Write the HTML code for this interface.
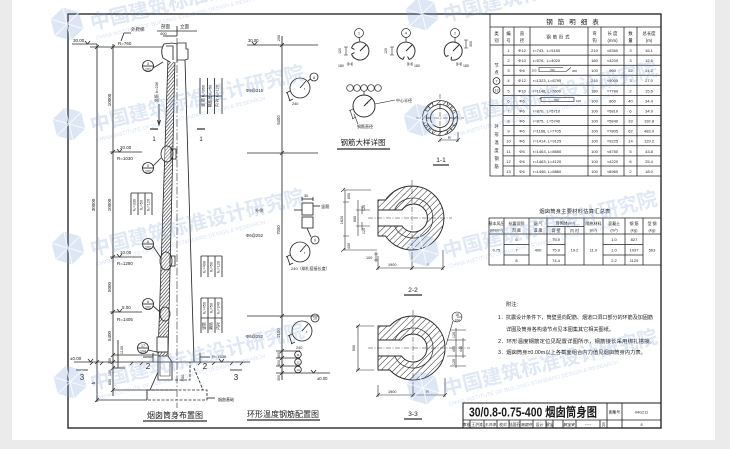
<!DOCTYPE html>
<html><head><meta charset="utf-8">
<style>
html,body{margin:0;padding:0;background:#ebebeb;}
svg{display:block;}
text{font-family:"Liberation Sans","Noto Sans CJK SC",sans-serif;fill:#1a1a1a;}
</style></head><body>
<svg width="730" height="449" viewBox="0 0 730 449" xmlns="http://www.w3.org/2000/svg">
<defs>
<pattern id="h" patternUnits="userSpaceOnUse" width="4.5" height="4.5" patternTransform="rotate(45)"><line x1="0" y1="0" x2="0" y2="4.5" stroke="#2a2a2a" stroke-width="1"/></pattern>
<pattern id="hc" patternUnits="userSpaceOnUse" width="2.4" height="2.4" patternTransform="rotate(40)"><line x1="0" y1="0" x2="0" y2="2.4" stroke="#1a1a1a" stroke-width="1.1"/></pattern>
</defs>
<rect x="0" y="0" width="730" height="449" fill="#ebebeb"/>
<rect x="12" y="0" width="703" height="440" fill="#fff"/>

<!-- frame -->
<rect x="68" y="14" width="593" height="414" fill="none" stroke="#1a1a1a" stroke-width="1.3"/>

<!-- ============ LEFT: chimney layout ============ -->
<g stroke="#2a2a2a" stroke-width="0.85" fill="none">
 <line x1="157" y1="31" x2="197" y2="31"/>
 <line x1="177" y1="26" x2="177" y2="36"/>
 <line x1="163" y1="36" x2="177" y2="36"/>
 <line x1="72" y1="44" x2="97" y2="44"/>
 <path d="M85,41 l2.5,3 l2.5,-3"/>
 <line x1="90" y1="47" x2="166" y2="47"/>
 <path d="M121,41 L124,33 L131,33"/>
 <line x1="97" y1="44" x2="97" y2="402"/>
 <line x1="113" y1="44" x2="113" y2="396"/>
 <path d="M95,49 l4,-4 M111,49 l4,-4 M111,154 l4,-4 M111,259 l4,-4 M111,314 l4,-4 M111,357 l4,-4 M111,364 l4,-4 M111,370 l4,-4 M111,392 l4,-4 M95,364 l4,-4 M95,402 l4,-4"/>
 <line x1="110" y1="152" x2="142" y2="152"/>
 <path d="M117,149 l2.5,3 l2.5,-3"/>
 <line x1="110" y1="257" x2="142" y2="257"/>
 <path d="M117,254 l2.5,3 l2.5,-3"/>
 <line x1="110" y1="312" x2="142" y2="312"/>
 <path d="M117,309 l2.5,3 l2.5,-3"/>
 <line x1="113" y1="355" x2="157" y2="355"/>
 <line x1="113" y1="368" x2="125" y2="368"/>
 <line x1="113" y1="390" x2="147" y2="390"/>
 <line x1="97" y1="400" x2="147" y2="400"/>
 <line x1="118" y1="340" x2="118" y2="368"/>
 <line x1="177" y1="38" x2="177" y2="408" stroke-dasharray="8,2,1.5,2" stroke-width="0.6"/>
 <path d="M168,58 L175,58 L168,356 L158,356 Z" fill="url(#hc)" stroke-width="0.8"/>
 <line x1="185" y1="60" x2="194" y2="362"/>
 <path d="M170,62 L163,58 Q160,50 164,44 L172,43 L177,44 L177,62" fill="#fff"/>
 <path d="M166,46 L173,46 L173,60" />
 <path d="M177,43 L186,43 L186,49 L188,49 L188,59 L185,60 L177,60"/>
 <ellipse cx="167" cy="154" rx="6" ry="8" fill="#fff" fill-opacity="0.3"/>
 <rect x="171" y="149" width="5" height="10"/>
 <ellipse cx="166" cy="261" rx="6" ry="9" fill="#fff" fill-opacity="0.3"/>
 <rect x="170" y="256" width="5" height="10"/>
 <ellipse cx="165" cy="314" rx="5" ry="7" fill="#fff" fill-opacity="0.3"/>
 <rect x="157" y="337" width="11" height="15" fill="#fff"/>
 <path d="M158,352 L158,380 L172,380 L172,362 L168,356"/>
 <path d="M160,356 L160,376 L170,376 L170,362" stroke-width="0.6"/>
 <path d="M158,372 L150,390"/>
 <rect x="147" y="390" width="60" height="10" stroke-dasharray="3,1.5"/>
 <line x1="147" y1="390" x2="175" y2="390"/>
 <line x1="147" y1="390" x2="147" y2="400"/>
 <path d="M194,368 L203,390" stroke-dasharray="3,1.5"/>
 <path d="M175,380 L190,380 L190,362" stroke-dasharray="3,1.5"/>
 <line x1="207" y1="398" x2="215" y2="398"/>
 <line x1="74" y1="362" x2="250" y2="362"/>
 <path d="M90,365 l3,-3 M100,365 l3,-3 M130,365 l3,-3 M140,365 l3,-3 M198,365 l3,-3 M212,365 l3,-3 M230,365 l3,-3 M240,365 l3,-3"/>
 <path d="M88,359 l2.5,3 l2.5,-3"/>
 <path d="M219,359 l2.5,3 l2.5,-3"/>
 <line x1="76" y1="370" x2="88" y2="370"/>
 <line x1="230" y1="370" x2="242" y2="370"/>
 <line x1="143" y1="357" x2="153" y2="357"/>
 <line x1="200" y1="357" x2="210" y2="357"/>
 <line x1="153" y1="353" x2="153" y2="362"/>
 <line x1="200" y1="353" x2="200" y2="362"/>
 <line x1="150" y1="129" x2="158" y2="129" stroke-width="1.2"/>
 <line x1="197" y1="129" x2="205" y2="129" stroke-width="1.2"/>
 <circle cx="148" cy="66" r="5.5"/><line x1="142.5" y1="66" x2="153.5" y2="66"/><line x1="153" y1="68" x2="163" y2="62"/>
 <circle cx="148" cy="168" r="5.5"/><line x1="142.5" y1="168" x2="153.5" y2="168"/><line x1="153" y1="166" x2="161" y2="158"/>
 <circle cx="148" cy="244" r="5.5"/><line x1="142.5" y1="244" x2="153.5" y2="244"/><line x1="153" y1="246" x2="161" y2="258"/>
 <circle cx="148" cy="304" r="5.5"/><line x1="142.5" y1="304" x2="153.5" y2="304"/><line x1="153" y1="306" x2="160" y2="312"/>
 <circle cx="143" cy="348" r="5.5"/><line x1="137.5" y1="348" x2="148.5" y2="348"/><line x1="148" y1="350" x2="157" y2="352"/>
 <line x1="159" y1="104" x2="159" y2="124"/>
 <path d="M157.5,120 L159,125 L160.5,120"/>
 <path d="M200,78 V114 M207.5,78 V114 M214.5,78 V114 M222,78 V114 M200,96 H222"/>
 <path d="M131,193 V215 M138,193 V215 M145,193 V215 M152,193 V215 M131,193 H152"/>
 <path d="M201,256 V277 M208,256 V277 M215,256 V277 M222,256 V277 M201,256 H222"/>
 <path d="M201,298 V333 M208,298 V333 M215,298 V333 M222,298 V333 M201,298 H222 M201,318 H222"/>
 <line x1="143" y1="421" x2="207" y2="421" stroke-width="1.2"/>
</g>
<g font-size="4.5">
 <text x="161" y="28">剖面</text><text x="180" y="28">立面</text>
 <text x="160" y="35" font-size="4">400</text>
 <text x="73" y="42">30.00</text>
 <text x="131" y="31" font-size="4.5">外爬梯</text>
 <text x="118" y="45">R=760</text>
 <text x="120" y="149">20.00</text><text x="117" y="160">R=1030</text>
 <text x="120" y="254">10.00</text><text x="117" y="265">R=1280</text>
 <text x="122" y="309">5.00</text><text x="117" y="321">R=1405</text>
 <text x="70" y="360">±0.00</text>
 <text x="212" y="358" font-size="4">R=1530</text>
 <text x="218" y="401" font-size="4">烟囱基础</text>
 <text x="111" y="100" transform="rotate(-90 111 100)" text-anchor="middle">10000</text>
 <text x="111" y="205" transform="rotate(-90 111 205)" text-anchor="middle">10000</text>
 <text x="95" y="205" transform="rotate(-90 95 205)" text-anchor="middle">30000</text>
 <text x="111" y="287" transform="rotate(-90 111 287)" text-anchor="middle">5000</text>
 <text x="111" y="336" transform="rotate(-90 111 336)" text-anchor="middle">5400</text>
 <text x="111" y="361" transform="rotate(-90 111 361)" text-anchor="middle" font-size="3.8">300</text>
 <text x="111" y="373" transform="rotate(-90 111 373)" text-anchor="middle" font-size="3.8">150</text>
 <text x="111" y="382" transform="rotate(-90 111 382)" text-anchor="middle" font-size="3.8">800</text>
 <text x="123" y="350" transform="rotate(-90 123 350)" text-anchor="middle" font-size="3.8">1100</text>
 <text x="95" y="383" transform="rotate(-90 95 383)" text-anchor="middle">h</text>
 <text x="184" y="378" transform="rotate(-90 184 378)" text-anchor="middle" font-size="4">800</text>
 <text x="158" y="92" transform="rotate(-90 158 92)" text-anchor="middle" font-size="4">竖筋 h=236</text>
 <text x="204.5" y="96" transform="rotate(-90 204.5 96)" text-anchor="middle" font-size="3.8">竖 筋 h₁=360</text>
 <text x="211.5" y="96" transform="rotate(-90 211.5 96)" text-anchor="middle" font-size="3.8">隔热层 h₂=50</text>
 <text x="218.5" y="96" transform="rotate(-90 218.5 96)" text-anchor="middle" font-size="3.8">内 衬 h₃=120</text>
 <text x="135.5" y="205" transform="rotate(-90 135.5 205)" text-anchor="middle" font-size="3.8">h₁=330</text>
 <text x="142.5" y="205" transform="rotate(-90 142.5 205)" text-anchor="middle" font-size="3.8">h₂=50</text>
 <text x="149.5" y="205" transform="rotate(-90 149.5 205)" text-anchor="middle" font-size="3.8">h₃=120</text>
 <text x="205.5" y="267" transform="rotate(-90 205.5 267)" text-anchor="middle" font-size="3.8">h₁=400</text>
 <text x="212.5" y="267" transform="rotate(-90 212.5 267)" text-anchor="middle" font-size="3.8">h₂=50</text>
 <text x="219.5" y="267" transform="rotate(-90 219.5 267)" text-anchor="middle" font-size="3.8">h₃=120</text>
 <text x="205.5" y="308" transform="rotate(-90 205.5 308)" text-anchor="middle" font-size="3.8">h₁=450</text>
 <text x="212.5" y="308" transform="rotate(-90 212.5 308)" text-anchor="middle" font-size="3.8">h₂=50</text>
 <text x="219.5" y="308" transform="rotate(-90 219.5 308)" text-anchor="middle" font-size="3.8">h₃=240</text>
 <text x="205.5" y="326" transform="rotate(-90 205.5 326)" text-anchor="middle" font-size="3.8">竖筋</text>
 <text x="212.5" y="326" transform="rotate(-90 212.5 326)" text-anchor="middle" font-size="3.8">隔热</text>
 <text x="219.5" y="326" transform="rotate(-90 219.5 326)" text-anchor="middle" font-size="3.8">内衬</text>
 <g font-size="3.6" text-anchor="middle">
  <text x="148" y="65">3</text><text x="148" y="70.5">101</text>
  <text x="148" y="167">5</text><text x="148" y="172.5">102</text>
  <text x="148" y="243">6</text><text x="148" y="248.5">102</text>
  <text x="148" y="303">6</text><text x="148" y="308.5">102</text>
  <text x="143" y="347">17</text><text x="143" y="352.5">104</text>
 </g>
 <text x="154" y="141" font-size="6" text-anchor="middle">1</text>
 <text x="201" y="141" font-size="6" text-anchor="middle">1</text>
 <text x="148" y="369" font-size="8" text-anchor="middle">2</text>
 <text x="205" y="369" font-size="8" text-anchor="middle">2</text>
 <text x="82" y="380" font-size="8" text-anchor="middle">3</text>
 <text x="236" y="380" font-size="8" text-anchor="middle">3</text>
 <text x="175" y="418" font-size="8" text-anchor="middle">烟囱筒身布置图</text>
</g>

<!-- ============ MIDDLE: ring temperature bars ============ -->
<g stroke="#2a2a2a" stroke-width="0.85" fill="none">
 <line x1="282" y1="36" x2="282" y2="380"/>
 <line x1="247" y1="45" x2="318" y2="45"/>
 <path d="M252,42 l2.5,3 l2.5,-3"/>
 <line x1="247" y1="153" x2="318" y2="153"/>
 <line x1="247" y1="316" x2="318" y2="316"/>
 <line x1="276" y1="351" x2="300" y2="351"/>
 <line x1="276" y1="358" x2="300" y2="358"/>
 <line x1="276" y1="366" x2="300" y2="366"/>
 <line x1="276" y1="373" x2="330" y2="373"/>
 <path d="M311,370 l2.5,3 l2.5,-3"/>
 <path d="M280,47 l4,-4 M280,155 l4,-4 M280,318 l4,-4 M280,353 l4,-4 M280,360 l4,-4 M280,368 l4,-4 M280,375 l4,-4"/>
 <circle cx="300" cy="88" r="10"/>
 <line x1="300" y1="88" x2="306" y2="81"/>
 <circle cx="314" cy="77" r="4"/>
 <line x1="310.5" y1="79" x2="308" y2="81"/>
 <path d="M287,92 l3,9 M290,91 l-4,2 M293,99 l-4,2"/>
 <rect x="302" y="203" width="11" height="12"/>
 <rect x="302" y="217" width="11" height="11"/>
 <line x1="302" y1="199" x2="313" y2="199"/>
 <line x1="302" y1="197" x2="302" y2="201"/><line x1="313" y1="197" x2="313" y2="201"/>
 <line x1="313" y1="206" x2="320" y2="206"/>
 <line x1="294" y1="210" x2="302" y2="210"/>
 <path d="M307,228 L311,237"/>
 <circle cx="315" cy="240" r="4"/>
 <circle cx="300" cy="252" r="10"/>
 <line x1="300" y1="252" x2="306" y2="245"/>
 <path d="M287,256 l3,9 M290,255 l-4,2 M293,263 l-4,2"/>
 <circle cx="302" cy="331" r="10"/>
 <line x1="302" y1="331" x2="308" y2="324"/>
 <circle cx="315" cy="318" r="4"/>
 <path d="M289,335 l3,9 M292,334 l-4,2 M295,342 l-4,2"/>
 <circle cx="298" cy="354.5" r="3.3"/>
 <circle cx="298" cy="362" r="3.3"/>
 <circle cx="298" cy="369.5" r="3.3"/>
 <line x1="247" y1="420" x2="320" y2="420" stroke-width="1.2"/>
</g>
<g font-size="4.2">
 <text x="248" y="42">30.00</text>
 <text x="280" y="38" transform="rotate(-90 280 38)" text-anchor="middle" font-size="3.8">200</text>
 <text x="246" y="92">Φ6@315</text>
 <text x="280" y="120" transform="rotate(-90 280 120)" text-anchor="middle">5400</text>
 <text x="292" y="105" font-size="3.8">240</text>
 <text x="304" y="90" font-size="3.8">r</text>
 <text x="314" y="79" font-size="3.6" text-anchor="middle">8</text>
 <text x="304" y="197" font-size="3.8">30</text>
 <text x="255" y="212">外侧</text>
 <text x="321" y="208">竖筋</text>
 <text x="315" y="241.5" font-size="3.6" text-anchor="middle">9</text>
 <text x="246" y="237">Φ6@252</text>
 <text x="280" y="230" transform="rotate(-90 280 230)" text-anchor="middle">7000</text>
 <text x="304" y="254" font-size="3.8">r</text>
 <text x="291" y="270" font-size="4">240（绑扎搭接长度）</text>
 <text x="246" y="338">Φ6@252</text>
 <text x="280" y="333" transform="rotate(-90 280 333)" text-anchor="middle">2100</text>
 <text x="306" y="333" font-size="3.8">r</text>
 <text x="315" y="319.5" font-size="3.6" text-anchor="middle">10</text>
 <text x="296" y="349" font-size="3.8">240</text>
 <text x="298" y="356" font-size="3" text-anchor="middle">11</text>
 <text x="298" y="363.5" font-size="3" text-anchor="middle">12</text>
 <text x="298" y="371" font-size="3" text-anchor="middle">13</text>
 <text x="280" y="355" transform="rotate(-90 280 355)" text-anchor="middle" font-size="3.5">800</text>
 <text x="280" y="363" transform="rotate(-90 280 363)" text-anchor="middle" font-size="3.5">400</text>
 <text x="280" y="378" transform="rotate(-90 280 378)" text-anchor="middle" font-size="3.5">300</text>
 <text x="317" y="380">±0.00</text>
 <text x="283" y="417" font-size="8" text-anchor="middle">环形温度钢筋配置图</text>
</g>

<!-- ============ bar details ============ -->
<g stroke="#2a2a2a" stroke-width="0.95" fill="none">
 <path d="M351.5,47.9 A9,9 0 1 1 351.5,54.1"/>
 <path d="M351.5,47.9 l3,1.5 M351.5,54.1 l3,-1.5"/>
 <line x1="360" y1="51" x2="366" y2="45"/>
 <circle cx="359" cy="33" r="4.5" stroke-width="0.7"/>
 <line x1="359" y1="37.5" x2="360" y2="42" stroke-width="0.7"/>
 <path d="M402.9,59.5 A9,9 0 1 1 409.1,59.5"/>
 <path d="M402.9,59.5 l1.5,-3 M409.1,59.5 l-1.5,-3"/>
 <line x1="406" y1="51" x2="412" y2="45"/>
 <circle cx="406" cy="33" r="4.5" stroke-width="0.7"/>
 <line x1="406" y1="37.5" x2="406" y2="42" stroke-width="0.7"/>
 <path d="M446,56.5 A9,9 0 1 1 451,59.8"/>
 <path d="M446,56.5 l2.5,-1 M451,59.8 l0.5,-3"/>
 <line x1="453" y1="51" x2="459" y2="45"/>
 <circle cx="455" cy="33" r="4.5" stroke-width="0.7"/>
 <line x1="455" y1="37.5" x2="455" y2="42" stroke-width="0.7"/>
 <g stroke-width="0.6">
  <path d="M346,47 v8 M344,47 h4 M344,55 h4 M348,64 h4 M348,62 v4 M352,62 v4"/>
  <path d="M392,47 v8 M390,47 h4 M390,55 h4 M408,64 h4 M408,62 v4 M412,62 v4"/>
  <path d="M466,40 v8 M464,40 h4 M464,48 h4 M457,64 h4 M457,62 v4 M461,62 v4"/>
 </g>
 <circle cx="364" cy="106" r="11"/>
 <line x1="364" y1="106" x2="372" y2="98"/>
 <line x1="375" y1="104" x2="395" y2="100" stroke-width="0.6"/>
 <line x1="354" y1="114" x2="358" y2="124" stroke-width="0.6"/>
 <path d="M350,110 l3,9 M353,109 l-4,2 M356,117 l-4,2" stroke-width="0.6"/>
 <g stroke-width="0.7">
  <circle cx="350" cy="88" r="3.3"/><circle cx="357" cy="88" r="3.3"/><circle cx="364" cy="88" r="3.3"/><circle cx="371" cy="88" r="3.3"/><circle cx="378" cy="88" r="3.3"/>
  <line x1="364" y1="91.3" x2="364" y2="95"/>
 </g>
 <line x1="337" y1="149" x2="390" y2="149" stroke-width="1.2"/>
</g>
<g font-size="4">
 <text x="359" y="34.5" font-size="3.5" text-anchor="middle">1</text>
 <text x="406" y="34.5" font-size="3.5" text-anchor="middle">4</text>
 <text x="455" y="34.5" font-size="3.5" text-anchor="middle">2</text>
 <text x="341" y="51" transform="rotate(-90 341 51)" text-anchor="middle" font-size="3.5">120</text>
 <text x="387" y="51" transform="rotate(-90 387 51)" text-anchor="middle" font-size="3.5">120</text>
 <text x="472" y="44" transform="rotate(-90 472 44)" text-anchor="middle" font-size="3.5">300</text>
 <text x="338" y="67" font-size="3.5">180</text>
 <text x="414" y="67" font-size="3.5">180</text>
 <text x="463" y="67" font-size="3.5">180</text>
 <text x="396" y="102">中心半径</text>
 <text x="357" y="128">钢筋直径</text>
 <text x="367" y="104" font-size="3.8">r</text>
 <text x="363" y="145" font-size="7.5" text-anchor="middle">钢筋大样详图</text>
</g>

<!-- ============ 1-1 section ============ -->
<g stroke="#2a2a2a" stroke-width="0.85" fill="none">
 <circle cx="440" cy="118" r="17.5" fill="url(#h)"/>
 <circle cx="440" cy="118" r="13.5" fill="#fff"/>
 <circle cx="440" cy="118" r="9.5"/>
 <path d="M440,104.5 V108.5 M440,127.5 V131.5 M426.5,118 H430.5 M449.5,118 H453.5 M449.5,108.5 l2.8,-2.8 M430.5,108.5 l-2.8,-2.8 M449.5,127.5 l2.8,2.8 M430.5,127.5 l-2.8,2.8 M446.8,105.8 l1,-3.5 M433.2,105.8 l-1,-3.5 M446.8,130.2 l1,3.5 M433.2,130.2 l-1,3.5 M452.2,111.2 l3.5,-1 M427.8,111.2 l-3.5,-1 M452.2,124.8 l3.5,1 M427.8,124.8 l-3.5,1" stroke-width="0.7"/>
 <line x1="416" y1="118" x2="464" y2="118" stroke-dasharray="5,1.5,1,1.5" stroke-width="0.5"/>
 <line x1="440" y1="94" x2="440" y2="142" stroke-dasharray="5,1.5,1,1.5" stroke-width="0.5"/>
 <line x1="440" y1="140" x2="458" y2="140" stroke-width="0.6"/>
 <path d="M438,142 l4,-4 M456,142 l4,-4 M458,132 v10" stroke-width="0.6"/>
 <line x1="433" y1="165" x2="449" y2="165" stroke-width="1.2"/>
</g>
<text x="448" y="139" font-size="3.8">R</text>
<text x="441" y="162" font-size="6.5" text-anchor="middle">1-1</text>

<!-- ============ 2-2 section ============ -->
<g stroke="#2a2a2a" stroke-width="0.95">
 <path fill="url(#h)" fill-rule="evenodd" d="M378,200 L385.5,200 A32,32 0 1 1 385.5,236 L378,236 Z M378,210 L402,210 A14,14 0 1 1 402,226 L378,226 Z"/>
 <path fill="none" d="M394.5,210 A20,20 0 1 1 394.5,226" stroke-width="0.7"/>
</g>
<g stroke="#2a2a2a" stroke-width="0.6" fill="none">
 <line x1="368" y1="218" x2="452" y2="218" stroke-dasharray="5,1.5,1,1.5" stroke-width="0.5"/>
 <line x1="412" y1="180" x2="412" y2="256" stroke-dasharray="5,1.5,1,1.5" stroke-width="0.5"/>
 <path d="M345,190 V250 M343,190 h28 M343,250 h34 M343,202 h6 M343,236 h6 M341,192 l4,-4 M341,252 l4,-4"/>
 <path d="M358,200 V236 M356,210 h14 M356,226 h14 M362,206 v8 M362,222 v8"/>
 <path d="M378,268 H443 M378,256 v14 M412,256 v14 M443,250 v20 M376,270 l4,-4 M410,270 l4,-4 M441,270 l4,-4"/>
 <path d="M376,252 V262 M374,254 h4 M374,260 h4"/>
 <line x1="404" y1="295" x2="422" y2="295" stroke-width="1.2"/>
</g>
<g font-size="3.8">
 <text x="343" y="220" transform="rotate(-90 343 220)" text-anchor="middle">1820</text>
 <text x="356" y="219" transform="rotate(-90 356 219)" text-anchor="middle">600</text>
 <text x="365" y="208" transform="rotate(-90 365 208)" text-anchor="middle">120</text>
 <text x="365" y="231" transform="rotate(-90 365 231)" text-anchor="middle">120</text>
 <text x="350" y="196" transform="rotate(-90 350 196)" text-anchor="middle">600</text>
 <text x="350" y="246" transform="rotate(-90 350 246)" text-anchor="middle">400</text>
 <text x="366" y="259">100</text>
 <text x="388" y="266">1900</text>
 <text x="426" y="266">R</text>
 <text x="413" y="292" font-size="6.5" text-anchor="middle">2-2</text>
</g>

<!-- ============ 3-3 section ============ -->
<g stroke="#2a2a2a" stroke-width="0.95">
 <path fill="url(#h)" fill-rule="evenodd" d="M378,326 L389.8,326 A32,32 0 1 1 389.8,370 L378,370 Z M378,340 L401.5,340 A14,14 0 1 1 401.5,356 L378,356 Z"/>
 <path fill="none" d="M394.7,340 A20,20 0 1 1 394.7,356" stroke-width="0.7"/>
</g>
<g stroke="#2a2a2a" stroke-width="0.6" fill="none">
 <line x1="368" y1="348" x2="470" y2="348" stroke-dasharray="5,1.5,1,1.5" stroke-width="0.5"/>
 <line x1="413" y1="310" x2="413" y2="386" stroke-dasharray="5,1.5,1,1.5" stroke-width="0.5"/>
 <path d="M358,326 V370 M356,326 h18 M356,370 h18 M356,328 l4,-4 M356,372 l4,-4"/>
 <path d="M378,395 H445 M378,385 v12 M413,385 v12 M445,378 v19 M376,397 l4,-4 M411,397 l4,-4 M443,397 l4,-4"/>
 <path d="M447,340 H466 M447,356 H466 M450,330 H466 M450,366 H466 M456,328 V368 M463,338 V358"/>
 <circle cx="457" cy="317" r="5"/>
 <line x1="457" y1="317" x2="462" y2="317"/>
 <line x1="453" y1="321" x2="446" y2="345"/>
 <line x1="404" y1="419" x2="422" y2="419" stroke-width="1.2"/>
</g>
<g font-size="3.8">
 <text x="355" y="348" transform="rotate(-90 355 348)" text-anchor="middle">500</text>
 <text x="455" y="335" transform="rotate(-90 455 335)" text-anchor="middle">120</text>
 <text x="455" y="349" transform="rotate(-90 455 349)" text-anchor="middle">400</text>
 <text x="462" y="349" transform="rotate(-90 462 349)" text-anchor="middle">440</text>
 <text x="455" y="362" transform="rotate(-90 455 362)" text-anchor="middle">120</text>
 <text x="457" y="316" font-size="3.2" text-anchor="middle">18</text>
 <text x="457" y="321.5" font-size="3.2" text-anchor="middle">104</text>
 <text x="388" y="393">1900</text>
 <text x="426" y="393">R</text>
 <text x="413" y="416" font-size="6.5" text-anchor="middle">3-3</text>
</g>

<!-- ============ TABLE 1 ============ -->
<g stroke="#222" stroke-width="0.75" fill="none">
 <rect x="490" y="14" width="171" height="162"/>
 <line x1="490" y1="27" x2="661" y2="27"/>
 <line x1="490" y1="45" x2="661" y2="45"/>
 <path d="M503,55.1 H661 M503,65.2 H661 M503,75.2 H661 M503,85.3 H661 M503,95.4 H661 M490,105.5 H661 M503,115.6 H661 M503,125.6 H661 M503,135.7 H661 M503,145.8 H661 M503,155.9 H661 M503,166 H661"/>
 <path d="M503,27 V176 M514,27 V176 M530,27 V176 M588,27 V176 M601,27 V176 M624,27 V176 M637,27 V176"/>
 <circle cx="496.5" cy="81" r="3.4"/>
 <circle cx="496.5" cy="90" r="3.4"/>
 <path d="M539,67.5 H563 M539,67.5 V71.5 H566 L571,67.5" stroke-width="0.6"/>
 <rect x="541" y="97.5" width="33" height="4" stroke-width="0.6"/>
 <path d="M541,97.5 l-1.5,1.5" stroke-width="0.6"/>
</g>
<g font-size="4.3" text-anchor="middle">
 <text x="575" y="24" font-size="6.5" letter-spacing="5">钢筋明细表</text>
 <text x="496.5" y="35">类</text><text x="496.5" y="42">别</text>
 <text x="508.5" y="35">编</text><text x="508.5" y="42">号</text>
 <text x="522" y="35">直</text><text x="522" y="42">径</text>
 <text x="559" y="38.5" letter-spacing="2">钢筋形式</text>
 <text x="594.5" y="35">弯</text><text x="594.5" y="42">钩</text>
 <text x="612.5" y="35">长 度</text><text x="612.5" y="42">(mm)</text>
 <text x="630.5" y="35">数</text><text x="630.5" y="42">量</text>
 <text x="649" y="35">总长度</text><text x="649" y="42">(m)</text>
 <text x="496.5" y="67">节</text><text x="496.5" y="74">点</text>
 <text x="496.5" y="82.5" font-size="3.6">7</text><text x="496.5" y="91.5" font-size="3.6">13</text>
 <text x="496.5" y="128">环</text><text x="496.5" y="136">形</text><text x="496.5" y="144">温</text><text x="496.5" y="152">度</text><text x="496.5" y="160">钢</text><text x="496.5" y="168">筋</text>
 <g font-size="4">
 <text x="508.5" y="52">1</text><text x="508.5" y="62.1">2</text><text x="508.5" y="72.2">3</text><text x="508.5" y="82.2">4</text><text x="508.5" y="92.3">5</text><text x="508.5" y="102.4">6</text><text x="508.5" y="112.5">7</text><text x="508.5" y="122.6">8</text><text x="508.5" y="132.6">9</text><text x="508.5" y="142.7">10</text><text x="508.5" y="152.8">11</text><text x="508.5" y="162.9">12</text><text x="508.5" y="173">13</text>
 <text x="522" y="52">Φ12</text><text x="522" y="62.1">Φ10</text><text x="522" y="72.2">Φ6</text><text x="522" y="82.2">Φ12</text><text x="522" y="92.3">Φ10</text><text x="522" y="102.4">Φ6</text><text x="522" y="112.5">Φ6</text><text x="522" y="122.6">Φ6</text><text x="522" y="132.6">Φ6</text><text x="522" y="142.7">Φ6</text><text x="522" y="152.8">Φ6</text><text x="522" y="162.9">Φ6</text><text x="522" y="173">Φ6</text>
 <text x="594.5" y="52">210</text><text x="594.5" y="62.1">180</text><text x="594.5" y="72.2">100</text><text x="594.5" y="82.2">210</text><text x="594.5" y="92.3">180</text><text x="594.5" y="102.4">100</text><text x="594.5" y="112.5">100</text><text x="594.5" y="122.6">100</text><text x="594.5" y="132.6">100</text><text x="594.5" y="142.7">100</text><text x="594.5" y="152.8">100</text><text x="594.5" y="162.9">100</text><text x="594.5" y="173">100</text>
 <text x="612.5" y="52">≈5360</text><text x="612.5" y="62.1">≈4200</text><text x="612.5" y="72.2">960</text><text x="612.5" y="82.2">≈9005</text><text x="612.5" y="92.3">≈7780</text><text x="612.5" y="102.4">860</text><text x="612.5" y="112.5">≈5810</text><text x="612.5" y="122.6">≈5840</text><text x="612.5" y="132.6">≈7805</text><text x="612.5" y="142.7">≈9225</text><text x="612.5" y="152.8">≈8750</text><text x="612.5" y="162.9">≈4220</text><text x="612.5" y="173">≈8960</text>
 <text x="630.5" y="52">3</text><text x="630.5" y="62.1">3</text><text x="630.5" y="72.2">22</text><text x="630.5" y="82.2">3</text><text x="630.5" y="92.3">2</text><text x="630.5" y="102.4">40</text><text x="630.5" y="112.5">6</text><text x="630.5" y="122.6">33</text><text x="630.5" y="132.6">62</text><text x="630.5" y="142.7">14</text><text x="630.5" y="152.8">5</text><text x="630.5" y="162.9">6</text><text x="630.5" y="173">2</text>
 <text x="649" y="52">16.1</text><text x="649" y="62.1">12.6</text><text x="649" y="72.2">21.2</text><text x="649" y="82.2">27.0</text><text x="649" y="92.3">15.6</text><text x="649" y="102.4">34.4</text><text x="649" y="112.5">34.9</text><text x="649" y="122.6">192.8</text><text x="649" y="132.6">483.9</text><text x="649" y="142.7">129.2</text><text x="649" y="152.8">43.8</text><text x="649" y="162.9">25.4</text><text x="649" y="173">18.0</text>
 </g>
</g>
<g font-size="4" text-anchor="start">
 <text x="533" y="52">r=743,&#160;&#160;L=5150</text>
 <text x="533" y="62.1">r=576,&#160;&#160;L=4020</text>
 <text x="531.5" y="71.5" font-size="3">150</text><text x="550" y="70.8" font-size="2.8">760</text><text x="572" y="72.2" font-size="3">300</text>
 <text x="533" y="82.2">r=1323,&#160;L=8795</text>
 <text x="533" y="92.3">r=1146,&#160;L=7600</text>
 <text x="554" y="101" font-size="2.8">760</text><text x="576" y="102" font-size="3">100</text>
 <text x="533" y="112.5">r=870,&#160;&#160;L=5710</text>
 <text x="533" y="122.6">r=875,&#160;&#160;L=5740</text>
 <text x="533" y="132.6">r=1166,&#160;L=7705</text>
 <text x="533" y="142.7">r=1414,&#160;L=9125</text>
 <text x="533" y="152.8">r=1463,&#160;L=8650</text>
 <text x="533" y="162.9">r=1463,&#160;L=4120</text>
 <text x="533" y="173">r=1496,&#160;L=8860</text>
</g>

<!-- ============ TABLE 2 ============ -->
<g stroke="#222" stroke-width="0.75" fill="none">
 <rect x="489" y="218" width="172" height="47"/>
 <line x1="489" y1="234" x2="661" y2="234"/>
 <line x1="547" y1="226.5" x2="584" y2="226.5"/>
 <path d="M504,218 V265 M529,218 V265 M547,218 V265 M565,226.5 V265 M584,218 V265 M603,218 V265 M625,218 V265 M643,218 V265"/>
 <path d="M504,244.5 H529 M504,255 H529 M547,244.5 H565 M547,255 H565 M603,244.5 H643 M603,255 H643"/>
</g>
<g font-size="4" text-anchor="middle">
 <text x="575" y="213" font-size="5.2" letter-spacing="0.3">烟囱筒身主要材料估算汇总表</text>
 <text x="496.5" y="225">基本风压</text><text x="496.5" y="231.5">(kN/m²)</text>
 <text x="516.5" y="225">抗震设防</text><text x="516.5" y="231.5">烈 度</text>
 <text x="538" y="225">烟 气</text><text x="538" y="231.5">温 度</text>
 <text x="565.5" y="224.5">砖砌体(m³)</text>
 <text x="556" y="232">筒 壁</text><text x="574.5" y="232">内 衬</text>
 <text x="593.5" y="225">隔热材料</text><text x="593.5" y="231.5">(m³)</text>
 <text x="614" y="225">混凝土</text><text x="614" y="231.5">(m³)</text>
 <text x="634" y="225">钢 筋</text><text x="634" y="231.5">(kg)</text>
 <text x="652" y="225">型 钢</text><text x="652" y="231.5">(kg)</text>
 <text x="496.5" y="251.5">0.75</text>
 <text x="516.5" y="241">6</text><text x="516.5" y="251.5">7</text><text x="516.5" y="262">8</text>
 <text x="538" y="251.5">400</text>
 <text x="556" y="241">75.9</text><text x="556" y="251.5">75.9</text><text x="556" y="262">74.4</text>
 <text x="574.5" y="251.5">19.2</text>
 <text x="593.5" y="251.5">11.0</text>
 <text x="614" y="241">1.0</text><text x="614" y="251.5">1.0</text><text x="614" y="262">2.2</text>
 <text x="634" y="241">827</text><text x="634" y="251.5">1037</text><text x="634" y="262">1129</text>
 <text x="652" y="251.5">563</text>
</g>

<!-- ============ NOTES ============ -->
<g font-size="5.2">
 <text x="506" y="306">附注:</text>
 <text x="498" y="319" textLength="155" lengthAdjust="spacingAndGlyphs">1．抗震设计条件下，筒壁竖向配筋、烟道口洞口部分的环筋及加固筋</text>
 <text x="506" y="331" textLength="108" lengthAdjust="spacingAndGlyphs">详图及筒身各构造节点见本图集其它相关图纸。</text>
 <text x="498" y="343" textLength="157" lengthAdjust="spacingAndGlyphs">2．环形温度钢筋定位见配置详图所示，钢筋接长采用绑扎搭接。</text>
 <text x="498" y="354" textLength="148" lengthAdjust="spacingAndGlyphs">3．烟囱筒身±0.00m以上各截面组合内力值见烟囱筒身内力表。</text>
</g>

<!-- ============ TITLE BLOCK ============ -->
<g stroke="#1a1a1a" stroke-width="0.8" fill="none">
 <rect x="463" y="403" width="198" height="25" stroke-width="1"/>
 <line x1="463" y1="420" x2="661" y2="420"/>
 <path d="M607,403 V428 M622,403 V428"/>
 <path d="M470,420 V428 M484,420 V428 M497,420 V428 M509,420 V428 M520,420 V428 M533,420 V428 M546,420 V428 M553,420 V428 M563,420 V428 M576,420 V428 M600,420 V428"/>
</g>
<text x="469" y="416.5" font-size="12.5" font-weight="bold" textLength="128" lengthAdjust="spacingAndGlyphs">30/0.8-0.75-400 烟囱筒身图</text>
<g font-size="3.8" text-anchor="middle">
 <text x="614.5" y="413.5">图集号</text>
 <text x="641.5" y="413.5">04G211</text>
 <text x="466.5" y="426">审核</text>
 <text x="477" y="426">王洪涛</text>
 <text x="490" y="426" font-style="italic">王洪涛</text>
 <text x="503" y="426">校对</text>
 <text x="514.5" y="426">陆国芬</text>
 <text x="526.5" y="426" font-style="italic">陆国芬</text>
 <text x="539.5" y="426">设计</text>
 <text x="549.5" y="426">解宝</text>
 <text x="569" y="426" font-style="italic">解宝安</text>
 <text x="588" y="426" font-style="italic">~~~</text>
 <text x="603.5" y="426">页</text>
 <text x="641.5" y="426">8</text>
</g>

<!-- ============ WATERMARKS ============ -->
<g fill="#7d9fd6" fill-opacity="0.26">
 <polygon transform="translate(67,24) rotate(-14)" points="0,-17 14.7,-8.5 14.7,8.5 0,17 -14.7,8.5 -14.7,-8.5"/>
 <polygon transform="translate(69,124) rotate(-14)" points="0,-17 14.7,-8.5 14.7,8.5 0,17 -14.7,8.5 -14.7,-8.5"/>
 <polygon transform="translate(68,248) rotate(-14)" points="0,-17 14.7,-8.5 14.7,8.5 0,17 -14.7,8.5 -14.7,-8.5"/>
 <polygon transform="translate(70,382) rotate(-14)" points="0,-17 14.7,-8.5 14.7,8.5 0,17 -14.7,8.5 -14.7,-8.5"/>
 <polygon transform="translate(422,14) rotate(-14)" points="0,-17 14.7,-8.5 14.7,8.5 0,17 -14.7,8.5 -14.7,-8.5"/>
 <polygon transform="translate(420,120) rotate(-14)" points="0,-17 14.7,-8.5 14.7,8.5 0,17 -14.7,8.5 -14.7,-8.5"/>
 <polygon transform="translate(423,250) rotate(-14)" points="0,-17 14.7,-8.5 14.7,8.5 0,17 -14.7,8.5 -14.7,-8.5"/>
 <polygon transform="translate(423,388) rotate(-14)" points="0,-17 14.7,-8.5 14.7,8.5 0,17 -14.7,8.5 -14.7,-8.5"/>
</g>
<g stroke="#fff" stroke-width="1.2" stroke-opacity="0.7" fill="none">
 <path transform="translate(67,24) rotate(-14)" d="M-14.7,-8.5 L14.7,8.5 M14.7,-8.5 L-14.7,8.5 M0,-17 V17"/>
 <path transform="translate(69,124) rotate(-14)" d="M-14.7,-8.5 L14.7,8.5 M14.7,-8.5 L-14.7,8.5 M0,-17 V17"/>
 <path transform="translate(68,248) rotate(-14)" d="M-14.7,-8.5 L14.7,8.5 M14.7,-8.5 L-14.7,8.5 M0,-17 V17"/>
 <path transform="translate(70,382) rotate(-14)" d="M-14.7,-8.5 L14.7,8.5 M14.7,-8.5 L-14.7,8.5 M0,-17 V17"/>
 <path transform="translate(422,14) rotate(-14)" d="M-14.7,-8.5 L14.7,8.5 M14.7,-8.5 L-14.7,8.5 M0,-17 V17"/>
 <path transform="translate(420,120) rotate(-14)" d="M-14.7,-8.5 L14.7,8.5 M14.7,-8.5 L-14.7,8.5 M0,-17 V17"/>
 <path transform="translate(423,250) rotate(-14)" d="M-14.7,-8.5 L14.7,8.5 M14.7,-8.5 L-14.7,8.5 M0,-17 V17"/>
 <path transform="translate(423,388) rotate(-14)" d="M-14.7,-8.5 L14.7,8.5 M14.7,-8.5 L-14.7,8.5 M0,-17 V17"/>
</g>
<g font-size="20" font-weight="bold">
 <text x="92" y="30" transform="rotate(-14 92 30)" style="fill:#7d9fd6;fill-opacity:0.24">中国建筑标准设计研究院</text>
 <text x="92" y="132" transform="rotate(-14 92 132)" style="fill:#7d9fd6;fill-opacity:0.24">中国建筑标准设计研究院</text>
 <text x="92" y="256" transform="rotate(-14 92 256)" style="fill:#7d9fd6;fill-opacity:0.24">中国建筑标准设计研究院</text>
 <text x="92" y="390" transform="rotate(-14 92 390)" style="fill:#7d9fd6;fill-opacity:0.24">中国建筑标准设计研究院</text>
 <text x="445" y="22" transform="rotate(-14 445 22)" style="fill:#7d9fd6;fill-opacity:0.24">中国建筑标准设计研究院</text>
 <text x="445" y="128" transform="rotate(-14 445 128)" style="fill:#7d9fd6;fill-opacity:0.24">中国建筑标准设计研究院</text>
 <text x="445" y="258" transform="rotate(-14 445 258)" style="fill:#7d9fd6;fill-opacity:0.24">中国建筑标准设计研究院</text>
 <text x="445" y="396" transform="rotate(-14 445 396)" style="fill:#7d9fd6;fill-opacity:0.24">中国建筑标准设计研究院</text>
</g>
<g font-size="5.5">
 <text x="96" y="40" transform="rotate(-14 96 40)" style="fill:#7d9fd6;fill-opacity:0.3">CHINA INSTITUTE OF BUILDING STANDARD DESIGN &amp; RESEARCH</text>
 <text x="96" y="142" transform="rotate(-14 96 142)" style="fill:#7d9fd6;fill-opacity:0.3">CHINA INSTITUTE OF BUILDING STANDARD DESIGN &amp; RESEARCH</text>
 <text x="96" y="266" transform="rotate(-14 96 266)" style="fill:#7d9fd6;fill-opacity:0.3">CHINA INSTITUTE OF BUILDING STANDARD DESIGN &amp; RESEARCH</text>
 <text x="96" y="400" transform="rotate(-14 96 400)" style="fill:#7d9fd6;fill-opacity:0.3">CHINA INSTITUTE OF BUILDING STANDARD DESIGN &amp; RESEARCH</text>
 <text x="449" y="138" transform="rotate(-14 449 138)" style="fill:#7d9fd6;fill-opacity:0.3">CHINA INSTITUTE OF BUILDING STANDARD DESIGN &amp; RESEARCH</text>
 <text x="449" y="268" transform="rotate(-14 449 268)" style="fill:#7d9fd6;fill-opacity:0.3">CHINA INSTITUTE OF BUILDING STANDARD DESIGN &amp; RESEARCH</text>
 <text x="449" y="406" transform="rotate(-14 449 406)" style="fill:#7d9fd6;fill-opacity:0.3">CHINA INSTITUTE OF BUILDING STANDARD DESIGN &amp; RESEARCH</text>
</g>
</svg>
</body></html>
